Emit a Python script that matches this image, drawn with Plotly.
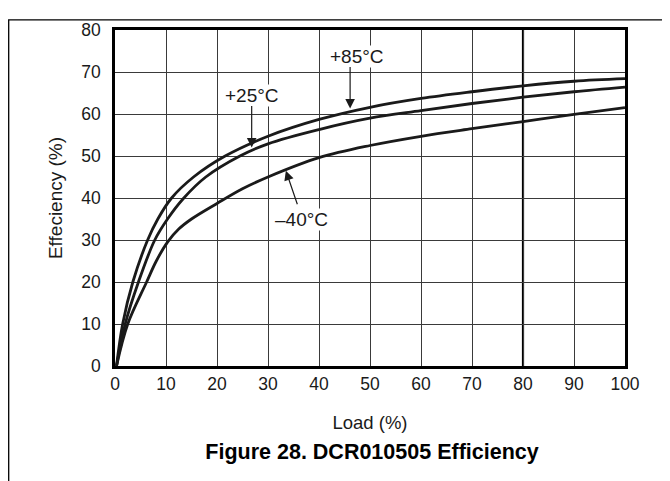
import plotly.graph_objects as go

# ---- data ----
load_85 = [0.3, 1.5, 3.5, 6.4, 8.4, 11.1, 15.4, 21.6, 30, 40, 50, 60, 70, 80, 90, 100]
eff_85 = [0, 10, 20, 30, 35, 40, 45, 50, 54.7, 58.7, 61.6, 63.7, 65.3, 66.7, 67.8, 68.4]

load_25 = [0.3, 2.0, 4.6, 7.8, 10.3, 13.5, 17.8, 24.5, 30, 40, 50, 60, 70, 80, 90, 100]
eff_25 = [0, 10, 20, 30, 35, 40, 45, 50, 52.9, 56.3, 59.0, 60.8, 62.5, 64.0, 65.3, 66.4]

load_m40 = [0.3, 2.5, 6.2, 8.1, 10.3, 12.5, 15, 20, 25, 30, 40, 50, 60, 70, 80, 90, 100]
eff_m40 = [0, 10, 20, 25, 29.5, 32.6, 35.0, 38.7, 42.2, 45.0, 49.6, 52.5, 54.7, 56.5, 58.2, 59.9, 61.5]

x_ticks = list(range(0, 101, 10))
y_ticks = list(range(0, 81, 10))
emphasis_x = 80

labels = ["+85°C", "+25°C", "–40°C"]
label_pos = [(47.5, 73.6), (26.9, 64.3), (36.6, 34.9)]
arrow_tip = [(46.1, 61.3), (26.8, 52.0), (33.5, 46.5)]
arrow_off = [(0, -43), (0, -43), (12, 35)]

FONT = "Liberation Sans, Arial, sans-serif"
INK = "#1a1a1a"

# plot area in figure pixels (page adds an 8 px body margin)
L, T, W, H = 107, 12, 510, 346
FW, FH = 670, 481

page_frame = dict(
    type="path", xref="paper", yref="paper", layer="above",
    path="M %f,%f L %f,%f L %f,%f" % (-(L - 0.7) / W, -(FH - T - H) / H,
                                     -(L - 0.7) / W, 1 + (T - 1.5) / H,
                                     (FW - L) / W, 1 + (T - 1.5) / H),
    line=dict(color="black", width=1.3))

fig = go.Figure(layout=dict(shapes=[page_frame]))
for xs, ys, name in [(load_85, eff_85, labels[0]), (load_25, eff_25, labels[1]), (load_m40, eff_m40, labels[2])]:
    fig.add_trace(go.Scatter(x=xs, y=ys, mode="lines", name=name,
                             line=dict(color=INK, width=2.8, shape="spline", smoothing=1.0),
                             showlegend=False))

ann = []
for (tx, ty), t in zip(label_pos, labels):
    ann.append(dict(x=tx, y=ty, text=t, showarrow=False, font=dict(size=19, color=INK, family=FONT),
                    bgcolor="white", borderpad=0))
for (px, py), (ax, ay) in zip(arrow_tip, arrow_off):
    ann.append(dict(x=px, y=py, text="", showarrow=True, ax=ax, ay=ay, arrowhead=2,
                    arrowsize=1.6, arrowwidth=1.2, arrowcolor=INK, standoff=0))

fig.update_layout(
    width=FW, height=FH,
    margin=dict(l=L, r=FW - L - W, t=T, b=FH - T - H),
    paper_bgcolor="white", plot_bgcolor="white",
    font=dict(family=FONT, size=18, color=INK),
    title=dict(text="<b>Figure 28. DCR010505 Efficiency</b>", x=364 / FW, xanchor="center",
               y=1 - 443 / FH, yref="container", yanchor="middle",
               font=dict(size=21.5, family=FONT, color="black")),
    annotations=ann,
)
fig.add_vline(x=emphasis_x, line=dict(color="black", width=2.2), layer="below")

fig.update_xaxes(range=[0, 100], tickvals=x_ticks, showgrid=True, gridcolor="#3a3a3a", gridwidth=1,
                 showline=True, linecolor="black", linewidth=2.5, mirror=True, ticks="",
                 zeroline=False, title=dict(text="Load (%)", standoff=24, font=dict(size=18.5)),
                 tickfont=dict(size=17.5))
fig.update_yaxes(range=[0, 80], tickvals=y_ticks, showgrid=True, gridcolor="#3a3a3a", gridwidth=1,
                 showline=True, linecolor="black", linewidth=2.5, mirror=True, ticks="",
                 zeroline=False, title=dict(text="Effeciency (%)", standoff=14, font=dict(size=19)),
                 tickfont=dict(size=17.5), ticklabelstandoff=8)

fig.write_html("out.html")
